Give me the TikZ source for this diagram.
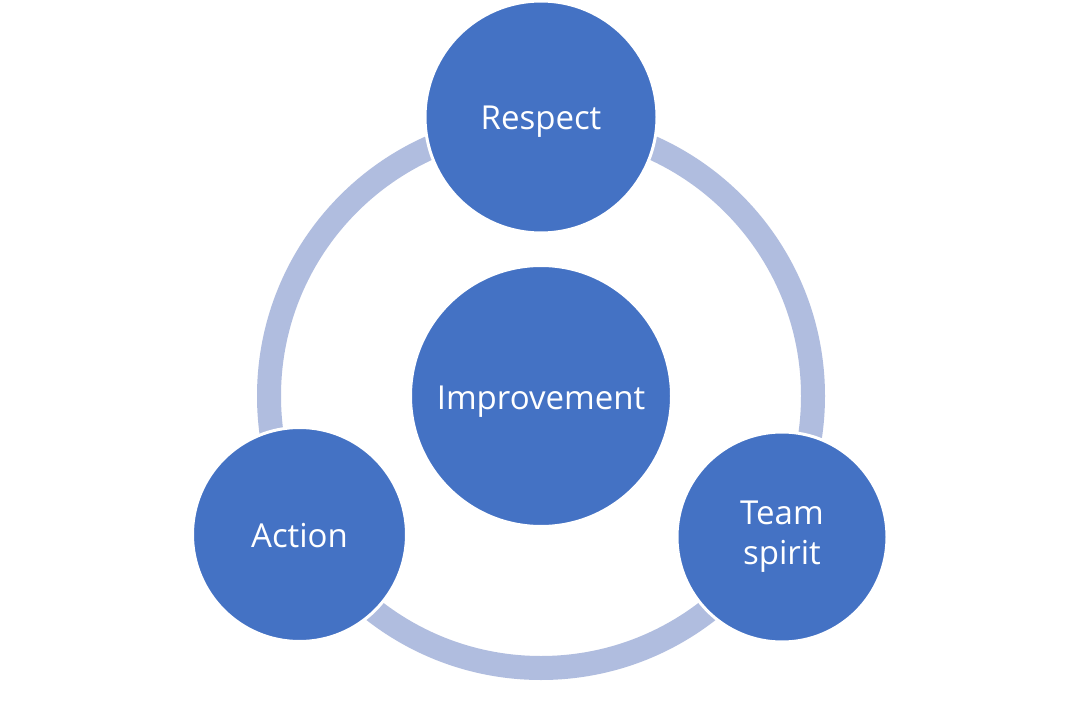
\documentclass[tikz,border=0pt]{standalone}
\usepackage{fontspec}
\setmainfont{Open Sans}
\definecolor{blob}{HTML}{4472C4}
\definecolor{ringc}{HTML}{B0BDDF}
\begin{document}
\begin{tikzpicture}[x=1pt,y=-1pt,
  blobnode/.style={circle,fill=blob,draw=white,line width=3pt,text=white,
    font=\fontsize{33}{40}\selectfont,align=center,inner sep=0pt},
  oneline/.style={text height=34pt,text depth=8pt}]
\useasboundingbox (0,0) rectangle (1080,706);
\fill[white] (0,0) rectangle (1080,706);
\coordinate (c) at (541,396);
\draw[ringc,line width=24pt] (c) circle[radius=272];
\node[blobnode,oneline,minimum size=261pt] (imp) at (541,396) {Improvement};
\node[blobnode,oneline,minimum size=232pt] (resp) at (541,117) {Respect};
\node[blobnode,oneline,minimum size=214pt] (act) at (299.5,534.5) {Action};
\node[blobnode,minimum size=210pt] (team) at (782,537) {Team\\spirit};
\end{tikzpicture}
\end{document}
